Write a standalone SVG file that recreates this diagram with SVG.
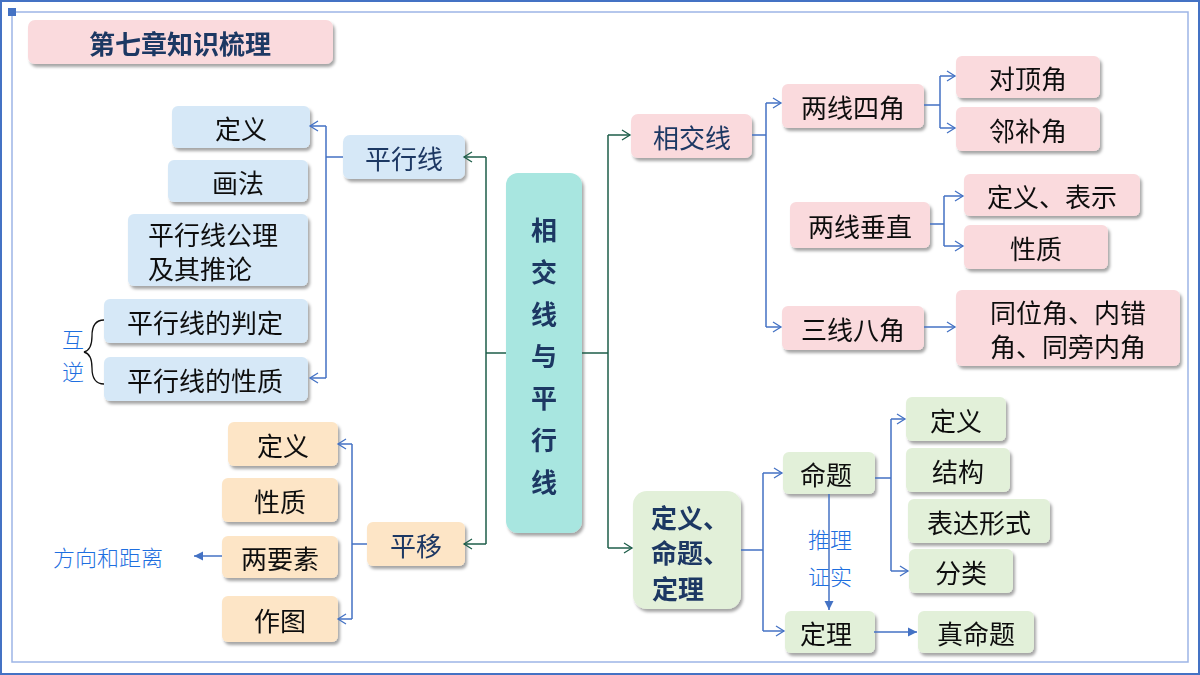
<svg xmlns="http://www.w3.org/2000/svg" width="1200" height="675" viewBox="0 0 1200 675">
<defs>
<filter id="sh" x="-20%" y="-20%" width="140%" height="150%"><feDropShadow dx="2" dy="3" stdDeviation="1.5" flood-color="#000" flood-opacity="0.35"/></filter>
<marker id="ob" markerWidth="12" markerHeight="12" refX="10" refY="6" orient="auto" markerUnits="userSpaceOnUse"><path d="M2,1 L10,6 L2,11" fill="none" stroke="#4472C4" stroke-width="1.3"/></marker>
<marker id="og" markerWidth="12" markerHeight="12" refX="10" refY="6" orient="auto" markerUnits="userSpaceOnUse"><path d="M2,1 L10,6 L2,11" fill="none" stroke="#1E5E4A" stroke-width="1.3"/></marker>
<marker id="fb" markerWidth="12" markerHeight="12" refX="10" refY="6" orient="auto" markerUnits="userSpaceOnUse"><path d="M1,1.5 L10,6 L1,10.5 Z" fill="#4472C4"/></marker>
</defs>
<style>
.n{filter:url(#sh)}
.pk{fill:#FADADD}.bl{fill:#D6E8F7}.or{fill:#FDE5C6}.gr{fill:#E2F0D9}.cy{fill:#A8E6E0}
text{font-family:"Noto Sans CJK SC","Noto Sans",sans-serif;font-size:26px;fill:#111;text-anchor:middle;dominant-baseline:central}
.dk{fill:#1F3864}
.hw{fill:#1E6FE0;font-family:"Noto Sans CJK SC",serif;font-size:22px;font-weight:300}
.cb{fill:none;stroke:#4472C4;stroke-width:1.5}
.cg{fill:none;stroke:#1E5E4A;stroke-width:1.5}
</style>
<rect x="1" y="1" width="1198" height="673" fill="#fff" stroke="#4472C4" stroke-width="2"/>
<path d="M12,12 H1188 V662 H12 Z" fill="none" stroke="#9DB5E6" stroke-width="1.5"/>
<rect x="8" y="8" width="8" height="8" fill="#4472C4"/>

<g id="title" class="n"><rect class="pk" x="28" y="20" width="305" height="44" rx="7"/><text class="dk" x="180" y="42" font-weight="bold">第七章知识梳理</text></g>
<g id="center" class="n"><rect class="cy" x="506" y="173" width="76" height="360" rx="12"/>
<g class="dk" font-weight="bold"><text class="dk" x="544" y="228" font-size="32">相</text><text class="dk" x="544" y="270" font-size="32">交</text><text class="dk" x="544" y="312" font-size="32">线</text><text class="dk" x="544" y="354" font-size="32">与</text><text class="dk" x="544" y="396" font-size="32">平</text><text class="dk" x="544" y="438" font-size="32">行</text><text class="dk" x="544" y="480" font-size="32">线</text></g></g>

<g id="pxx" class="n"><rect class="bl" x="343" y="135" width="122" height="44" rx="7"/><text class="dk" x="404" y="157">平行线</text></g>
<g id="p1" class="n"><rect class="bl" x="172" y="106" width="138" height="42" rx="6"/><text x="241" y="127">定义</text></g>
<g id="p2" class="n"><rect class="bl" x="168" y="160" width="140" height="42" rx="6"/><text x="238" y="181">画法</text></g>
<g id="p3" class="n"><rect class="bl" x="128" y="214" width="180" height="72" rx="6"/><text x="213" y="233">平行线公理</text><text x="200" y="267" text-anchor="middle">及其推论</text></g>
<g id="p4" class="n"><rect class="bl" x="104" y="299" width="204" height="44" rx="6"/><text x="205" y="321">平行线的判定</text></g>
<g id="p5" class="n"><rect class="bl" x="104" y="357" width="204" height="44" rx="6"/><text x="205" y="379">平行线的性质</text></g>
<g id="huni"><path d="M104,320 Q92,320 92,336 Q92,350 84,352 Q92,354 92,368 Q92,384 104,384" fill="none" stroke="#111" stroke-width="1.3"/><text class="hw" x="73" y="338">互</text><text class="hw" x="73" y="370">逆</text></g>

<g id="py" class="n"><rect class="or" x="367" y="522" width="98" height="44" rx="6"/><text class="dk" x="416" y="544">平移</text></g>
<g id="y1" class="n"><rect class="or" x="228" y="422" width="110" height="44" rx="6"/><text x="283" y="444">定义</text></g>
<g id="y2" class="n"><rect class="or" x="222" y="478" width="116" height="44" rx="6"/><text x="280" y="500">性质</text></g>
<g id="y3" class="n"><rect class="or" x="222" y="536" width="116" height="42" rx="6"/><text x="280" y="557">两要素</text></g>
<g id="y4" class="n"><rect class="or" x="222" y="596" width="116" height="46" rx="6"/><text x="280" y="619">作图</text></g>
<text class="hw" x="108" y="556">方向和距离</text>

<g id="xj" class="n"><rect class="pk" x="631" y="114" width="121" height="44" rx="7"/><text class="dk" x="692" y="136">相交线</text></g>
<g id="x1" class="n"><rect class="pk" x="782" y="84" width="142" height="44" rx="6"/><text x="853" y="106">两线四角</text></g>
<g id="x2" class="n"><rect class="pk" x="790" y="202" width="140" height="46" rx="6"/><text x="860" y="225">两线垂直</text></g>
<g id="x3" class="n"><rect class="pk" x="782" y="306" width="142" height="44" rx="6"/><text x="853" y="328">三线八角</text></g>
<g id="x4" class="n"><rect class="pk" x="956" y="56" width="144" height="42" rx="6"/><text x="1028" y="77">对顶角</text></g>
<g id="x5" class="n"><rect class="pk" x="956" y="107" width="144" height="44" rx="6"/><text x="1028" y="129">邻补角</text></g>
<g id="x6" class="n"><rect class="pk" x="964" y="174" width="176" height="42" rx="6"/><text x="1052" y="195">定义、表示</text></g>
<g id="x7" class="n"><rect class="pk" x="964" y="225" width="144" height="44" rx="6"/><text x="1036" y="247">性质</text></g>
<g id="x8" class="n"><rect class="pk" x="956" y="290" width="224" height="76" rx="6"/><text x="1068" y="311">同位角、内错</text><text x="1068" y="345">角、同旁内角</text></g>

<g id="dm" class="n"><rect class="gr" x="633" y="491" width="108" height="118" rx="14"/><g font-weight="bold"><text class="dk" x="690" y="516">定义、</text><text class="dk" x="690" y="551">命题、</text><text class="dk" x="678" y="587">定理</text></g></g>
<g id="mt" class="n"><rect class="gr" x="783" y="452" width="92" height="42" rx="6"/><text x="826" y="473">命题</text></g>
<g id="dl" class="n"><rect class="gr" x="785" y="611" width="90" height="42" rx="6"/><text x="826" y="632">定理</text></g>
<g id="m1" class="n"><rect class="gr" x="906" y="397" width="100" height="44" rx="6"/><text x="956" y="419">定义</text></g>
<g id="m2" class="n"><rect class="gr" x="906" y="448" width="104" height="44" rx="6"/><text x="958" y="470">结构</text></g>
<g id="m3" class="n"><rect class="gr" x="908" y="499" width="142" height="44" rx="6"/><text x="979" y="521">表达形式</text></g>
<g id="m4" class="n"><rect class="gr" x="909" y="549" width="104" height="44" rx="6"/><text x="961" y="571">分类</text></g>
<g id="zm" class="n"><rect class="gr" x="918" y="611" width="116" height="42" rx="6"/><text x="976" y="632">真命题</text></g>
<text class="hw" x="830" y="538">推理</text><text class="hw" x="830" y="575">证实</text>

<g id="connectors">
<path class="cg" d="M506,353 H486 M486,157 V544 M486,157 H464" marker-end="url(#og)"/>
<path class="cg" d="M486,544 H464" marker-end="url(#og)"/>
<path class="cg" d="M582,353 H608 M608,135 V548 M608,135 H630" marker-end="url(#og)"/>
<path class="cg" d="M608,548 H632" marker-end="url(#og)"/>
<path class="cb" d="M343,157 H326 M326,126 V378 M326,126 H310" marker-end="url(#ob)"/>
<path class="cb" d="M326,378 H310" marker-end="url(#ob)"/>
<path class="cb" d="M367,544 H352 M352,444 V619 M352,444 H338" marker-end="url(#ob)"/>
<path class="cb" d="M352,619 H338" marker-end="url(#ob)"/>
<path class="cb" d="M222,556 H194" marker-end="url(#fb)"/>
<path class="cb" d="M752,135 H766 M766,103 V327 M766,103 H781" marker-end="url(#ob)"/>
<path class="cb" d="M766,327 H781" marker-end="url(#ob)"/>
<path class="cb" d="M924,105 H940 M940,76 V128 M940,76 H955" marker-end="url(#ob)"/>
<path class="cb" d="M940,128 H955" marker-end="url(#ob)"/>
<path class="cb" d="M930,224 H944 M944,196 V246 M944,196 H963" marker-end="url(#ob)"/>
<path class="cb" d="M944,246 H963" marker-end="url(#ob)"/>
<path class="cb" d="M924,327 H955" marker-end="url(#ob)"/>
<path class="cb" d="M741,550 H763 M763,473 V631 M763,473 H782" marker-end="url(#ob)"/>
<path class="cb" d="M763,631 H784" marker-end="url(#ob)"/>
<path class="cb" d="M875,478 H891 M891,419 V571 M891,419 H905" marker-end="url(#ob)"/>
<path class="cb" d="M891,571 H908" marker-end="url(#ob)"/>
<path class="cb" d="M874,632 H917" marker-end="url(#fb)"/>
<path class="cb" d="M829,494 V610" marker-end="url(#fb)"/>
</g>
</svg>
